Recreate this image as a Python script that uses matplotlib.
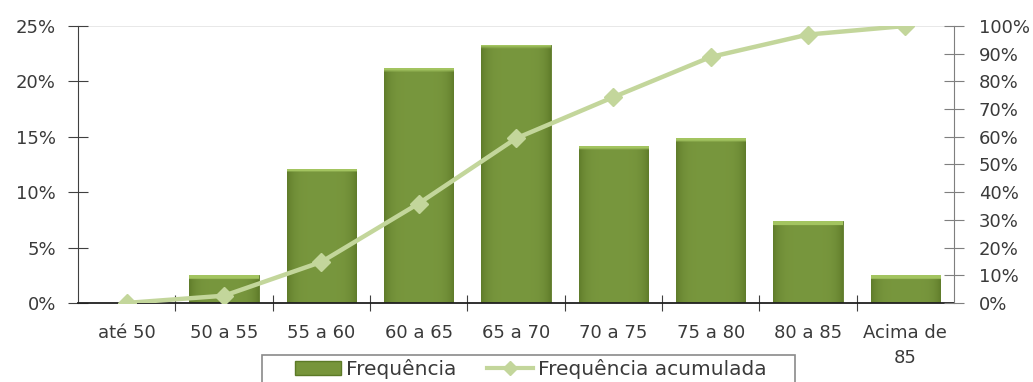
import numpy as np
import matplotlib.pyplot as plt
from matplotlib.ticker import FuncFormatter
from matplotlib.lines import Line2D
from matplotlib.patches import Patch, Rectangle

categories = ["até 50", "50 a 55", "55 a 60", "60 a 65", "65 a 70",
              "70 a 75", "75 a 80", "80 a 85", "Acima de\n85"]
frequencia = [0.0, 2.5, 12.1, 21.2, 23.3, 14.2, 14.9, 7.4, 2.5]
acumulada = [0.0, 2.6, 14.8, 35.9, 59.4, 74.3, 88.8, 96.9, 100.0]

plt.rcParams["font.family"] = ["DejaVu Sans"]

bar_color = "#77953B"
line_color = "#C3D69B"
text_color = "#3A3A3A"

fig = plt.figure(figsize=(10.33, 3.82), dpi=100)
ax = fig.add_axes([0.0755, 0.207, 0.848, 0.725])
ax2 = ax.twinx()

x = np.arange(len(categories))
bars = ax.bar(x, frequencia, width=0.71, color=bar_color, edgecolor="#5C7A27",
              linewidth=0.6, zorder=2)

# soft bevel shading inside each bar
prof = np.abs(np.linspace(-1, 1, 60)) ** 5
dark = np.array([0.38, 0.49, 0.17])
mid = np.array([0.47, 0.59, 0.24])
light = np.array([0.64, 0.77, 0.38])
for b in bars:
    h = b.get_height()
    if h <= 0:
        continue
    ny = 80
    img = mid[None, None, :] * (1 - prof[None, :, None]) + dark[None, None, :] * prof[None, :, None]
    img = np.repeat(img, ny, axis=0)
    top_rows = max(1, int(round(ny * 0.35 / h)))
    img[:top_rows] = light
    im = ax.imshow(img, extent=[b.get_x(), b.get_x() + b.get_width(), 0, h],
                   aspect="auto", zorder=2.1, interpolation="bilinear")
    im.set_clip_path(b)

ax2.plot(x, acumulada, color=line_color, lw=3.2, marker="D", ms=9,
         markerfacecolor=line_color, markeredgecolor=line_color, zorder=3)

ax.set_xlim(-0.5, len(categories) - 0.5)
ax.set_ylim(0, 25)
ax2.set_ylim(0, 100)
ax.set_yticks([0, 5, 10, 15, 20, 25])
ax2.set_yticks(range(0, 101, 10))
pct = FuncFormatter(lambda v, p: f"{v:.0f}%")
ax.yaxis.set_major_formatter(pct)
ax2.yaxis.set_major_formatter(pct)

ax.set_xticks(x[:-1] + 0.5)
ax.set_xticklabels([])
ax.set_xticks(x, minor=True)
ax.set_xticklabels(categories, minor=True, fontsize=13, color=text_color,
                   linespacing=1.5)
ax.tick_params(axis="x", which="major", direction="inout", length=12,
               color="#404040")
ax.tick_params(axis="x", which="minor", length=0, pad=15)
ax.tick_params(axis="y", direction="inout", length=14, color="#404040",
               labelsize=13, labelcolor=text_color, pad=9)
ax2.tick_params(axis="y", direction="inout", length=14, color="#7F7F7F",
                labelsize=13, labelcolor=text_color, pad=11)

ax.axhline(25, color="#E4E4E4", lw=1.2, zorder=1)
for s in ["top", "right"]:
    ax.spines[s].set_visible(False)
for s in ["top", "left", "bottom"]:
    ax2.spines[s].set_visible(False)
ax.spines["left"].set_color("#404040")
ax.spines["bottom"].set_color("#202020")
ax.spines["bottom"].set_linewidth(1.3)
ax2.spines["right"].set_color("#7F7F7F")

# legend frame (runs past the bottom edge like the original)
fig.patches.append(Rectangle((262 / 1033, -0.05), (795 - 262) / 1033,
                             1 - 355 / 382 + 0.05, transform=fig.transFigure,
                             fill=False, edgecolor="#8A8A8A", lw=1.2))
handles = [Patch(facecolor=bar_color, edgecolor="#5C7A27"),
           Line2D([], [], color=line_color, lw=3, marker="D", ms=7)]
fig.legend(handles, ["Frequência", "Frequência acumulada"],
           loc="upper center", bbox_to_anchor=(531 / 1033, 1 - 357 / 382),
           ncol=2, fontsize=14.5, frameon=False, columnspacing=1.5,
           handlelength=2.3, handletextpad=0.25, borderpad=0.1,
           borderaxespad=0, labelcolor=text_color)

fig.savefig("out.png", dpi=100)
